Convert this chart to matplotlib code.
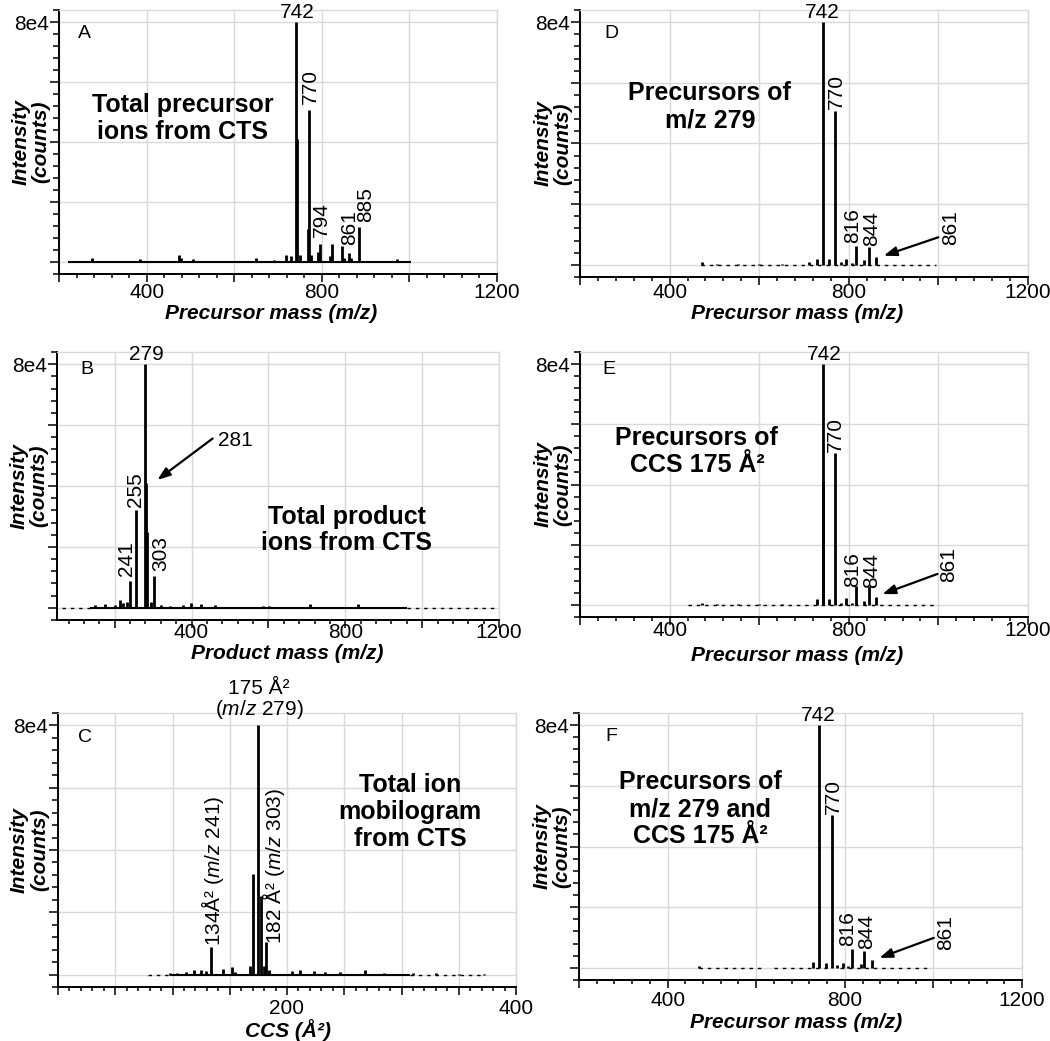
import matplotlib
matplotlib.use("Agg")
import matplotlib.pyplot as plt
from matplotlib.ticker import MultipleLocator

plt.rcParams['font.family'] = ['Liberation Sans', 'DejaVu Sans']
plt.rcParams['mathtext.fontset'] = 'custom'
plt.rcParams['mathtext.rm'] = 'Liberation Sans'
plt.rcParams['mathtext.it'] = 'Liberation Sans:italic'
plt.rcParams['mathtext.bf'] = 'Liberation Sans:bold'

# ---------------- data ----------------
# A: total precursor ions (m/z, counts)
mz_A = [275, 385, 473, 478, 507, 649, 691, 718, 729, 742, 743, 750, 768, 770, 776, 792, 797,
        818, 823, 845, 850, 861, 867, 885, 971]
int_A = [1300, 900, 2200, 1500, 900, 1400, 700, 2500, 1900, 80000, 41000, 2500, 11000, 50800, 2500, 3300, 6100,
         2000, 6100, 5500, 1500, 3100, 1500, 11700, 900]
base_A = [(220, 1004)]

# B: total product ions
mz_B = [148, 176, 200, 215, 222, 232, 241, 255, 279, 281, 283, 295, 303, 320, 345, 377, 398, 424, 462, 586, 602,
        708, 834]
int_B = [800, 1400, 900, 2500, 1600, 1900, 8900, 32000, 80000, 40900, 25000, 2000, 10400, 1000, 700, 800, 1600,
         1100, 1000, 700, 700, 1400, 1100]
base_B = [(135, 960)]
base_B_dash = [(62, 135), (960, 1190)]

# C: total ion mobilogram (CCS, counts)
ccs_C = [98, 104, 112, 119, 125, 129, 134, 144, 152, 155, 168, 170, 175, 177, 180, 182, 184, 204, 211, 224, 233,
         246, 268, 285, 310, 330, 350, 372]
int_C = [600, 500, 700, 1400, 1300, 1100, 8800, 1800, 2400, 800, 2700, 32200, 80000, 25200, 2700, 10500, 1500,
         1000, 1500, 1000, 700, 700, 1400, 500, 400, 400, 300, 300]
base_C = [(98, 307)]
base_C_dash = [(79, 98), (307, 372)]

# D: precursors of m/z 279
mz_D = [472, 505, 553, 600, 650, 711, 729, 742, 756, 770, 783, 794, 807, 816, 834, 844, 861]
int_D = [800, 300, 300, 300, 300, 1100, 1900, 80000, 1900, 50600, 800, 1900, 500, 6200, 1600, 5800, 2700]
base_D_dash = [(470, 995)]

# E: precursors of CCS 175
mz_E = [472, 505, 553, 600, 650, 729, 742, 743, 756, 770, 783, 794, 807, 816, 834, 844, 861]
int_E = [700, 300, 300, 400, 300, 2000, 80000, 40900, 1900, 50300, 800, 2400, 500, 6300, 1400, 6300, 2800]
base_E_dash = [(441, 995)]

# F: precursors of m/z 279 and CCS 175
mz_F = [471, 729, 742, 757, 770, 783, 795, 808, 816, 836, 844, 861]
int_F = [600, 1900, 80000, 1500, 50400, 800, 1600, 700, 6300, 1300, 5700, 2600]
base_F_dash = [(471, 610), (640, 760), (790, 986)]

mass_major = [200, 400, 600, 800, 1000, 1200]
mass_labels = ['', '400', '', '800', '', '1200']
ccs_major = [0, 50, 100, 150, 200, 250, 300, 350, 400]
ccs_labels = ['', '', '', '', '200', '', '', '', '400']
y_major = [0, 20000, 40000, 60000, 80000]
y_labels = ['', '', '', '', '8e4']

W, H = 1050, 1041
fig = plt.figure(figsize=(W / 100, H / 100), dpi=100)
GRID = '#d9d9d9'


def rect(l, t, r, b):
    return [l / W, 1 - b / H, (r - l) / W, (b - t) / H]


def setup(ax, xlim, xmajor, xlabels, xminor, xlabel, tickpad, xlab_pos, ylab_x):
    ax.set_xlim(*xlim)
    ax.set_ylim(-4000, 84000)
    ax.set_xticks(xmajor)
    ax.set_xticklabels(xlabels)
    ax.xaxis.set_minor_locator(MultipleLocator(xminor))
    ax.set_yticks(y_major)
    ax.set_yticklabels(y_labels)
    ax.yaxis.set_minor_locator(MultipleLocator(4000))
    ax.grid(True, which='major', color=GRID, lw=1)
    ax.set_axisbelow(True)
    for s in ('top', 'right'):
        ax.spines[s].set_color(GRID)
        ax.spines[s].set_linewidth(1)
    for s in ('left', 'bottom'):
        ax.spines[s].set_linewidth(1.4)
    ax.tick_params(axis='x', which='major', length=5.5, width=1.1, pad=tickpad, labelsize=15)
    ax.tick_params(axis='x', which='minor', length=3, width=1.1)
    ax.tick_params(axis='y', which='major', length=6.5, width=1.1, pad=1, labelsize=15)
    ax.tick_params(axis='y', which='minor', length=4.3, width=1.1)
    ax.set_xlabel(xlabel, fontsize=15, fontweight='bold', fontstyle='italic')
    ax.xaxis.set_label_coords(*xlab_pos)
    ax.set_ylabel('Intensity\n(counts)', fontsize=15, fontweight='bold', fontstyle='italic', linespacing=1.05)
    ax.yaxis.set_label_coords(ylab_x, 0.5)


def sticks(ax, x, y, solid=(), dashed=()):
    for a, b in solid:
        ax.hlines(0, a, b, color='k', lw=1.5, zorder=3)
    for a, b in dashed:
        ax.hlines(0, a, b, color='k', lw=1.0, linestyles=(0, (2.5, 3.5)), zorder=3)
    ax.vlines(x, 0, y, color='k', lw=2.0, zorder=4)


def peak_labels(ax, labels):
    for txt, x, y, rot in labels:
        ax.text(x, y, txt, rotation=rot, ha='center', va='bottom', fontsize=15, clip_on=False)


def arrow(ax, txt, tx, ty, tail, head):
    ax.text(tx, ty, txt, rotation=90, ha='center', va='bottom', fontsize=15)
    ax.annotate('', xy=head, xytext=tail,
                arrowprops=dict(arrowstyle='-|>,head_length=0.55,head_width=0.2', mutation_scale=14,
                                lw=1.6, color='k', shrinkA=0, shrinkB=0))


def big(ax, x, y, txt):
    ax.text(x, y, txt, transform=ax.transAxes, ha='center', va='center', multialignment='center',
            fontsize=18, fontweight='bold', linespacing=1.15)


def letter(ax, x, y, txt):
    ax.text(x, y, txt, transform=ax.transAxes, ha='left', va='top', fontsize=14)


mass_lab = 'Precursor mass (m/z)'

# ---- A ----
axA = fig.add_axes(rect(59, 10, 497, 274))
setup(axA, (200, 1200), mass_major, mass_labels, 40, mass_lab, 1.2, (0.484, -0.114), -0.02)
sticks(axA, mz_A, int_A, solid=base_A)
peak_labels(axA, [('742', 745, 80000, 0), ('770', 774, 52700, 90), ('794', 799, 8300, 90),
                  ('861', 864, 5600, 90), ('885', 900, 13300, 90)])
big(axA, 0.283, 0.59, 'Total precursor\nions from CTS')
letter(axA, 0.043, 0.945, 'A')

# ---- B ----
axB = fig.add_axes(rect(57, 352, 499, 620))
setup(axB, (50, 1200), mass_major, mass_labels, 40, 'Product mass (m/z)', -3.2, (0.52, -0.088), -0.02)
sticks(axB, mz_B, int_B, solid=base_B, dashed=base_B_dash)
peak_labels(axB, [('279', 282, 80000, 0), ('255', 255, 33200, 90), ('241', 230, 10400, 90),
                  ('303', 320, 12000, 90)])
axB.text(468, 55000, '281', ha='left', va='center', fontsize=15)
axB.annotate('', xy=(311, 42000), xytext=(455, 55600),
             arrowprops=dict(arrowstyle='-|>,head_length=0.55,head_width=0.2', mutation_scale=14,
                             lw=1.6, color='k', shrinkA=0, shrinkB=0))
big(axB, 0.656, 0.336, 'Total product\nions from CTS')
letter(axB, 0.052, 0.965, 'B')

# ---- C ----
axC = fig.add_axes(rect(58, 713, 516, 987))
setup(axC, (0, 400), ccs_major, ccs_labels, 10, 'CCS (Å²)', 3, (0.502, -0.117), -0.02)
sticks(axC, ccs_C, int_C, solid=base_C, dashed=base_C_dash)
axC.text(175.6, 81500, '175 Å²\n($m/z$ 279)', ha='center', va='bottom', fontsize=15,
         linespacing=1.0, multialignment='center', clip_on=False)
peak_labels(axC, [('134Å² ($m/z$ 241)', 134.8, 9100, 90), ('182 Å² ($m/z$ 303)', 188.5, 9700, 90)])
big(axC, 0.769, 0.639, 'Total ion\nmobilogram\nfrom CTS')
letter(axC, 0.044, 0.94, 'C')

# ---- D ----
axD = fig.add_axes(rect(580, 10, 1028, 277))
setup(axD, (200, 1200), mass_major, mass_labels, 40, mass_lab, -1, (0.484, -0.101), -0.018)
sticks(axD, mz_D, int_D, dashed=base_D_dash)
peak_labels(axD, [('742', 740, 80000, 0), ('770', 773, 51500, 90), ('816', 809, 7300, 90),
                  ('844', 851, 6200, 90)])
arrow(axD, '861', 1028, 6600, (1000, 9100), (878, 3000))
big(axD, 0.29, 0.637, 'Precursors of\nm/z 279')
letter(axD, 0.054, 0.945, 'D')

# ---- E ----
axE = fig.add_axes(rect(580, 352, 1028, 617))
setup(axE, (200, 1200), mass_major, mass_labels, 40, mass_lab, -2.5, (0.484, -0.109), -0.018)
sticks(axE, mz_E, int_E, dashed=base_E_dash)
peak_labels(axE, [('742', 746, 80000, 0), ('770', 769, 50900, 90), ('816', 809, 6100, 90),
                  ('844', 851, 5500, 90)])
arrow(axE, '861', 1023, 7700, (998, 10300), (875, 3600))
big(axE, 0.261, 0.623, 'Precursors of\nCCS 175 Å²')
letter(axE, 0.049, 0.965, 'E')

# ---- F ----
axF = fig.add_axes(rect(579, 713, 1022, 980))
setup(axF, (200, 1200), mass_major, mass_labels, 40, mass_lab, 2.5, (0.49, -0.124), -0.018)
sticks(axF, mz_F, int_F, dashed=base_F_dash)
peak_labels(axF, [('742', 741, 80000, 0), ('770', 775, 50700, 90), ('816', 806, 7300, 90),
                  ('844', 849, 6300, 90)])
arrow(axF, '861', 1028, 5900, (1001, 9900), (878, 3300))
big(axF, 0.273, 0.64, 'Precursors of\nm/z 279 and\nCCS 175 Å²')
letter(axF, 0.059, 0.945, 'F')

fig.savefig('out.png', dpi=100)
